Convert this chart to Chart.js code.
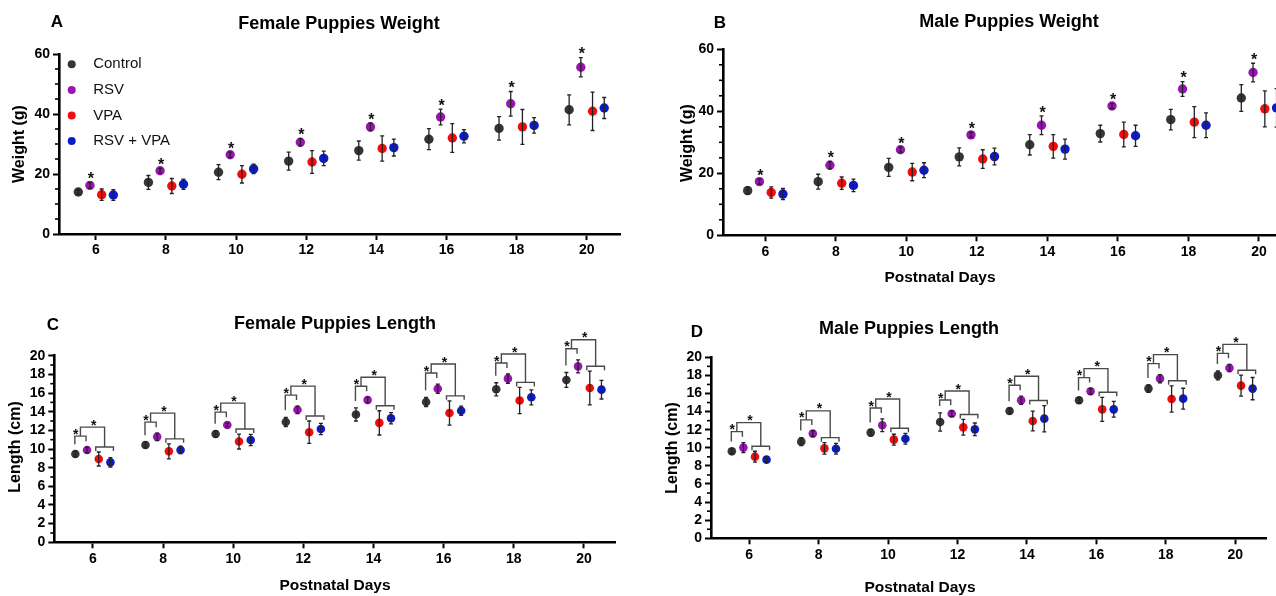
<!DOCTYPE html>
<html><head><meta charset="utf-8">
<script src="https://cdn.jsdelivr.net/npm/chart.js@4.4.0/dist/chart.umd.min.js"></script>
<style>
html,body{margin:0;padding:0;background:#fff;overflow:hidden;width:1276px;height:596px;}
canvas{position:absolute;left:0;top:0;}
</style></head><body>
<canvas id="cA" width="1320" height="596"></canvas>
<canvas id="cB" width="1320" height="596"></canvas>
<canvas id="cC" width="1320" height="596"></canvas>
<canvas id="cD" width="1320" height="596"></canvas>
<script>
// ---------- DATA ----------
const days = [6, 8, 10, 12, 14, 16, 18, 20];
const groups = ['Control', 'RSV', 'VPA', 'RSV + VPA'];
const weightTicks = [0, 20, 40, 60];
const lengthTicks = [0, 2, 4, 6, 8, 10, 12, 14, 16, 18, 20];

// Female weight (g): mean and SD
const fwControl   = [14.0, 17.2, 20.6, 24.3, 27.8, 31.6, 35.2, 41.4];
const fwControlSd = [0.8, 2.3, 2.5, 3.0, 3.2, 3.5, 3.9, 5.0];
const fwRsv       = [16.2, 21.1, 26.4, 30.6, 35.7, 39.0, 43.4, 55.6];
const fwRsvSd     = [0.9, 0.8, 0.9, 1.2, 1.3, 2.6, 4.1, 3.2];
const fwVpa       = [13.1, 16.0, 19.9, 24.0, 28.5, 32.0, 35.7, 40.9];
const fwVpaSd     = [1.9, 2.5, 2.9, 3.8, 4.2, 4.8, 5.8, 6.4];
const fwCombo     = [13.0, 16.6, 21.7, 25.2, 28.8, 32.6, 36.2, 42.0];
const fwComboSd   = [1.8, 1.7, 1.6, 2.4, 2.8, 2.2, 2.6, 3.5];

// Male weight (g)
const mwControl   = [14.4, 17.3, 21.9, 25.3, 29.2, 32.8, 37.3, 44.3];
const mwControlSd = [1.2, 2.4, 2.9, 2.9, 3.3, 2.7, 3.3, 4.3];
const mwRsv       = [17.3, 22.6, 27.6, 32.4, 35.5, 41.7, 47.2, 52.5];
const mwRsvSd     = [0.8, 1.2, 0.8, 0.8, 3.0, 0.8, 2.4, 3.0];
const mwVpa       = [13.8, 16.8, 20.4, 24.6, 28.7, 32.5, 36.5, 40.8];
const mwVpaSd     = [1.8, 2.0, 2.8, 3.0, 3.8, 4.0, 5.0, 5.8];
const mwCombo     = [13.3, 16.1, 21.0, 25.4, 27.8, 32.1, 35.5, 41.1];
const mwComboSd   = [1.8, 2.0, 2.4, 2.7, 3.2, 3.4, 4.0, 6.2];

// Female length (cm)
const flControl   = [9.46, 10.43, 11.6, 12.9, 13.7, 15.04, 16.4, 17.4];
const flControlSd = [0.3, 0.3, 0.35, 0.5, 0.7, 0.5, 0.7, 0.8];
const flRsv       = [9.9, 11.3, 12.57, 14.2, 15.25, 16.46, 17.54, 18.86];
const flRsvSd     = [0.3, 0.4, 0.2, 0.4, 0.3, 0.5, 0.5, 0.7];
const flVpa       = [8.93, 9.75, 10.8, 11.8, 12.8, 13.86, 15.2, 16.54];
const flVpaSd     = [0.75, 0.8, 0.8, 1.2, 1.3, 1.3, 1.4, 1.8];
const flCombo     = [8.57, 9.9, 10.96, 12.14, 13.3, 14.1, 15.54, 16.36];
const flComboSd   = [0.5, 0.4, 0.6, 0.6, 0.6, 0.5, 0.8, 1.0];

// Male length (cm)
const mlControl   = [9.61, 10.68, 11.68, 12.85, 14.07, 15.25, 16.54, 18.0];
const mlControlSd = [0.3, 0.45, 0.35, 1.0, 0.3, 0.3, 0.4, 0.5];
const mlRsv       = [10.02, 11.57, 12.49, 13.77, 15.25, 16.24, 17.64, 18.82];
const mlRsvSd     = [0.55, 0.3, 0.7, 0.3, 0.45, 0.3, 0.45, 0.4];
const mlVpa       = [9.02, 9.94, 10.9, 12.26, 12.96, 14.25, 15.4, 16.87];
const mlVpaSd     = [0.6, 0.63, 0.6, 0.87, 1.1, 1.33, 1.45, 1.15];
const mlCombo     = [8.69, 9.9, 11.0, 12.04, 13.22, 14.25, 15.43, 16.54];
const mlComboSd   = [0.3, 0.6, 0.6, 0.7, 1.45, 0.87, 1.15, 1.23];

// Significance marks (per day)
const fwSig = ['*', '*', '*', '*', '*', '*', '*', '*'];
const mwSig = ['*', '*', '*', '*', '*', '*', '*', '*'];
const flSig = ['*', '*', '*', '*', '*', '*', '*', '*'];
const mlSig = ['*', '*', '*', '*', '*', '*', '*', '*'];

// ---------- STYLE / LAYOUT ----------
const FONT = '"Liberation Sans", Arial, Helvetica, sans-serif';
const groupOffsets = [-0.5, -0.167, 0.167, 0.5];
const groupColors = ['#363636', '#9a14b4', '#f20c0c', '#0b1cc6'];
const CW = 1320, CH = 596, Y_AXIS_W = 44, X_AXIS_H = 30;

function drawStar(ctx, x, cy, size) {
  ctx.font = 'bold ' + size + 'px ' + FONT;
  ctx.textAlign = 'center';
  ctx.textBaseline = 'alphabetic';
  ctx.fillStyle = '#111';
  ctx.fillText('*', x, cy + size * 0.58);
}

const decoPlugin = {
  id: 'deco',
  afterDatasetsDraw(chart) {
    const p = chart.options.plugins.deco;
    const ctx = chart.ctx, ys = chart.scales.y;
    ctx.save();
    // error bars
    chart.data.datasets.forEach((ds, k) => {
      const meta = chart.getDatasetMeta(k);
      ctx.strokeStyle = '#222';
      ctx.lineWidth = 1.3;
      meta.data.forEach((pt, i) => {
        const m = ds.data[i].y, s = ds.sd[i];
        const yt = ys.getPixelForValue(m + s), yb = ys.getPixelForValue(m - s);
        ctx.beginPath();
        ctx.moveTo(pt.x, yt); ctx.lineTo(pt.x, yb);
        ctx.moveTo(pt.x - 2, yt); ctx.lineTo(pt.x + 2, yt);
        ctx.moveTo(pt.x - 2, yb); ctx.lineTo(pt.x + 2, yb);
        ctx.stroke();
      });
    });
    const metas = [0, 1, 2, 3].map(k => chart.getDatasetMeta(k));
    const topPx = (k, i) => {
      const ds = chart.data.datasets[k];
      return ys.getPixelForValue(ds.data[i].y + ds.sd[i]);
    };
    // significance
    p.sig.forEach((mark, i) => {
      if (!mark) return;
      if (p.sigType === 'star') {
        drawStar(ctx, metas[1].data[i].x + 1, topPx(1, i) - 7.5, 16);
      } else {
        const xs = metas.map(m => m.data[i].x);
        const h1 = Math.min(topPx(0, i), topPx(1, i)) - 11;
        const h2 = h1 - 9;
        const h3 = Math.min(topPx(2, i), topPx(3, i)) - 5;
        const l1 = xs[0] - 0.5, r1 = xs[1] - 1;
        const mid1 = (l1 + r1) / 2, mid3 = (xs[2] + xs[3]) / 2;
        const legL = Math.max(topPx(0, i) - 7, h1 + 4);
        ctx.strokeStyle = '#4a4a4a';
        ctx.lineWidth = 1.4;
        ctx.beginPath();
        // control vs RSV
        ctx.moveTo(l1, legL); ctx.lineTo(l1, h1); ctx.lineTo(r1, h1); ctx.lineTo(r1, h1 + 5);
        // VPA vs RSV+VPA
        ctx.moveTo(xs[2] - 3, h3 + 4); ctx.lineTo(xs[2] - 3, h3); ctx.lineTo(xs[3] + 3, h3); ctx.lineTo(xs[3] + 3, h3 + 4);
        // upper comparison
        ctx.moveTo(mid1, h1); ctx.lineTo(mid1, h2); ctx.lineTo(mid3, h2); ctx.lineTo(mid3, h3);
        ctx.stroke();
        drawStar(ctx, l1 + 1, h1 - 5.5, 14);
        drawStar(ctx, mid1 + 0.55 * (mid3 - mid1), h2 - 5.5, 14);
      }
    });
    ctx.restore();
  },
  afterDraw(chart) {
    const p = chart.options.plugins.deco;
    const ctx = chart.ctx, ys = chart.scales.y, area = chart.chartArea;
    ctx.save();
    // minor ticks on y axis
    ctx.strokeStyle = '#000';
    ctx.lineWidth = 1.6;
    for (let v = 0; v <= ys.max + 1e-9; v += p.yMinor) {
      if (p.yTicks.some(t => Math.abs(t - v) < 1e-6)) continue;
      const py = ys.getPixelForValue(v);
      ctx.beginPath(); ctx.moveTo(area.left - 4, py); ctx.lineTo(area.left, py); ctx.stroke();
    }
    ctx.fillStyle = '#000';
    ctx.textAlign = 'center';
    ctx.textBaseline = 'middle';
    ctx.font = 'bold 17px ' + FONT;
    ctx.fillText(p.letter.t, p.letter.x, p.letter.y);
    ctx.font = 'bold 18px ' + FONT;
    ctx.fillText(p.title.t, p.title.x, p.title.y);
    if (p.xTitle) {
      ctx.font = 'bold 15.5px ' + FONT;
      ctx.fillText(p.xTitle.t, p.xTitle.x, p.xTitle.y);
    }
    ctx.save();
    ctx.translate(p.yTitle.x, p.yTitle.y);
    ctx.rotate(-Math.PI / 2);
    ctx.font = 'bold 16px ' + FONT;
    ctx.fillText(p.yTitle.t, 0, 0);
    ctx.restore();
    if (p.legend) {
      chart.data.datasets.forEach((ds, k) => {
        const y = p.legend.y + k * p.legend.dy;
        ctx.beginPath();
        ctx.fillStyle = ds.backgroundColor;
        ctx.arc(p.legend.x, y, 4, 0, Math.PI * 2);
        ctx.fill();
        ctx.fillStyle = '#111';
        ctx.textAlign = 'left';
        ctx.font = '15px ' + FONT;
        ctx.fillText(ds.label, p.legend.x + 21.5, y);
      });
    }
    ctx.restore();
  }
};

function makePanel(id, p) {
  const datasets = groups.map((g, k) => ({
    label: g,
    data: days.map((d, i) => ({ x: d + groupOffsets[k], y: p.means[k][i] })),
    sd: p.sds[k],
    backgroundColor: groupColors[k],
    borderColor: groupColors[k],
    borderWidth: 0,
    pointRadius: p.radius,
    pointHoverRadius: p.radius,
    showLine: false
  }));
  const tickFont = { family: FONT, size: 14, weight: 'bold' };
  new Chart(document.getElementById(id), {
    type: 'scatter',
    data: { datasets },
    options: {
      responsive: false,
      animation: false,
      events: [],
      layout: { padding: { left: p.area.l - Y_AXIS_W, right: CW - p.area.r, top: p.area.t, bottom: CH - p.area.b - X_AXIS_H } },
      plugins: {
        legend: { display: false },
        tooltip: { enabled: false },
        deco: p
      },
      scales: {
        x: {
          type: 'linear', min: p.xRange[0], max: p.xRange[1],
          afterBuildTicks: s => { s.ticks = days.map(v => ({ value: v })); },
          afterFit: s => { s.height = X_AXIS_H; },
          grid: { drawOnChartArea: false, drawTicks: true, tickLength: 6, tickWidth: 2, tickColor: '#000' },
          border: { display: true, width: 2.6, color: '#000' },
          ticks: { color: '#000', font: tickFont, padding: 2, maxRotation: 0, autoSkip: false }
        },
        y: {
          type: 'linear', min: 0, max: p.yTicks[p.yTicks.length - 1],
          afterBuildTicks: s => { s.ticks = p.yTicks.map(v => ({ value: v })); },
          afterFit: s => { s.width = Y_AXIS_W; },
          grid: { drawOnChartArea: false, drawTicks: true, tickLength: 6, tickWidth: 2, tickColor: '#000' },
          border: { display: true, width: 2.6, color: '#000' },
          ticks: { color: '#000', font: tickFont, padding: 3, autoSkip: false }
        }
      }
    },
    plugins: [decoPlugin]
  });
}

makePanel('cA', {
  area: { l: 59, r: 620, t: 54, b: 234 }, xRange: [4.95, 20.95],
  yTicks: weightTicks, yMinor: 5, radius: 4.7,
  means: [fwControl, fwRsv, fwVpa, fwCombo], sds: [fwControlSd, fwRsvSd, fwVpaSd, fwComboSd],
  sig: fwSig, sigType: 'star',
  letter: { t: 'A', x: 57, y: 22 }, title: { t: 'Female Puppies Weight', x: 339, y: 24 },
  yTitle: { t: 'Weight (g)', x: 20, y: 144 }, xTitle: null,
  legend: { x: 71.7, y: 64.3, dy: 25.6 }
});
makePanel('cB', {
  area: { l: 723, r: 1294.2, t: 49.3, b: 235.3 }, xRange: [4.8, 21],
  yTicks: weightTicks, yMinor: 5, radius: 4.7,
  means: [mwControl, mwRsv, mwVpa, mwCombo], sds: [mwControlSd, mwRsvSd, mwVpaSd, mwComboSd],
  sig: mwSig, sigType: 'star',
  letter: { t: 'B', x: 720, y: 23 }, title: { t: 'Male Puppies Weight', x: 1009, y: 22 },
  yTitle: { t: 'Weight (g)', x: 688, y: 143 }, xTitle: { t: 'Postnatal Days', x: 940, y: 278 },
  legend: null
});
makePanel('cC', {
  area: { l: 54.3, r: 615.5, t: 355.7, b: 542.3 }, xRange: [4.9, 20.9],
  yTicks: lengthTicks, yMinor: 1, radius: 4.3,
  means: [flControl, flRsv, flVpa, flCombo], sds: [flControlSd, flRsvSd, flVpaSd, flComboSd],
  sig: flSig, sigType: 'bracket',
  letter: { t: 'C', x: 53, y: 325 }, title: { t: 'Female Puppies Length', x: 335, y: 324 },
  yTitle: { t: 'Length (cm)', x: 16, y: 447 }, xTitle: { t: 'Postnatal Days', x: 335, y: 586 },
  legend: null
});
makePanel('cD', {
  area: { l: 711, r: 1266.5, t: 357.3, b: 538.3 }, xRange: [4.9, 20.9],
  yTicks: lengthTicks, yMinor: 1, radius: 4.3,
  means: [mlControl, mlRsv, mlVpa, mlCombo], sds: [mlControlSd, mlRsvSd, mlVpaSd, mlComboSd],
  sig: mlSig, sigType: 'bracket',
  letter: { t: 'D', x: 697, y: 332 }, title: { t: 'Male Puppies Length', x: 909, y: 329 },
  yTitle: { t: 'Length (cm)', x: 673, y: 448 }, xTitle: { t: 'Postnatal Days', x: 920, y: 588 },
  legend: null
});
</script>
</body></html>
